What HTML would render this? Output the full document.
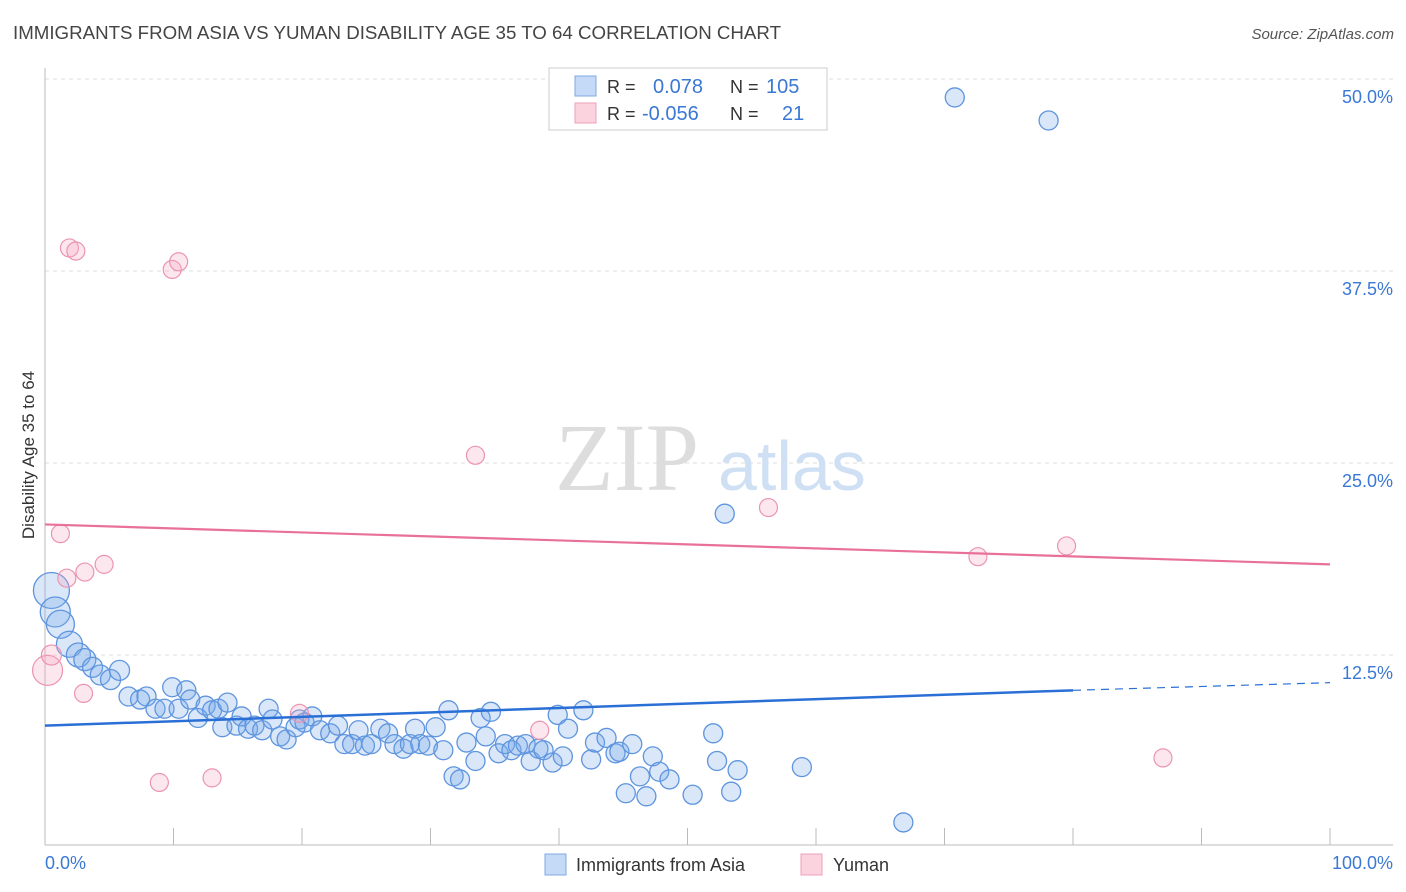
<!DOCTYPE html>
<html><head><meta charset="utf-8"><style>
body{margin:0;background:#fff;font-family:"Liberation Sans",sans-serif;}
svg{display:block}
</style></head><body>
<svg width="1406" height="892" xmlns="http://www.w3.org/2000/svg">
<text x="13" y="39" font-size="18" fill="#444" textLength="768" lengthAdjust="spacingAndGlyphs">IMMIGRANTS FROM ASIA VS YUMAN DISABILITY AGE 35 TO 64 CORRELATION CHART</text>
<text x="1394" y="39" font-size="15" fill="#555" font-style="italic" text-anchor="end">Source: ZipAtlas.com</text>
<g id="grid"></g>
<text x="555" y="490" font-size="96" fill="#ddd" font-family="Liberation Serif,serif">ZIP</text>
<text x="718" y="490" font-size="70" fill="#cfe0f4">atlas</text>
<g id="marks"></g>
<text transform="translate(34,455) rotate(-90)" font-size="17" fill="#333" text-anchor="middle">Disability Age 35 to 64</text>
<text x="45" y="869" font-size="18" fill="#3a78d4">0.0%</text>
<text x="1393" y="869" font-size="18" fill="#3a78d4" text-anchor="end">100.0%</text>
<g>
<rect x="545" y="854" width="21" height="21" fill="#c5daf6" stroke="#7ea8e3"/>
<text x="576" y="871" font-size="18" fill="#333">Immigrants from Asia</text>
<rect x="801" y="854" width="21" height="21" fill="#fbd3df" stroke="#eca0b8"/>
<text x="833" y="871" font-size="18" fill="#333">Yuman</text>
</g>
<g>
<rect x="549" y="68" width="278" height="62" fill="#fff" stroke="#ccc"/>
<rect x="575" y="76" width="21" height="20" fill="#c5daf6" stroke="#7ea8e3"/>
<rect x="575" y="103" width="21" height="20" fill="#fbd3df" stroke="#eca0b8"/>
<text x="607" y="93" font-size="18" fill="#333">R = </text><text x="653" y="93" font-size="20" fill="#3a78d4">0.078</text>
<text x="730" y="93" font-size="18" fill="#333">N = </text><text x="766" y="93" font-size="20" fill="#3a78d4">105</text>
<text x="607" y="120" font-size="18" fill="#333">R = </text><text x="642" y="120" font-size="20" fill="#3a78d4">-0.056</text>
<text x="730" y="120" font-size="18" fill="#333">N = </text><text x="782" y="120" font-size="20" fill="#3a78d4">21</text>
</g>
</svg>
<script>
const yTicks=[12.5,25.0,37.5,50.0];
const blueX=[0.5,0.8,1.2,1.9,2.6,3.1,3.7,4.3,5.1,5.8,6.5,7.4,7.9,8.6,9.3,9.9,10.4,11.0,11.3,11.9,12.5,13.0,13.5,13.8,14.2,14.9,15.3,15.8,16.3,16.9,17.4,17.7,18.3,18.8,19.5,19.8,20.2,20.8,21.4,22.2,22.8,23.3,23.9,24.4,24.9,25.4,26.1,26.7,27.2,27.9,28.4,28.8,29.2,29.8,30.4,31.0,31.4,31.8,32.3,32.8,33.5,33.9,34.3,34.7,35.3,35.8,36.3,36.8,37.4,37.8,38.4,38.8,39.5,39.9,40.3,40.7,41.9,42.5,42.8,43.7,44.4,44.7,45.2,45.7,46.3,46.8,47.3,47.8,48.6,50.4,52.0,52.3,52.9,53.4,53.9,58.9,66.8,70.8,78.1];
const blueY=[16.7,15.3,14.5,13.2,12.5,12.2,11.7,11.2,10.9,11.5,9.8,9.6,9.8,9.0,9.0,10.4,9.0,10.2,9.6,8.4,9.2,8.9,9.0,7.8,9.4,7.9,8.5,7.7,7.9,7.6,9.0,8.3,7.2,7.0,7.8,8.3,8.1,8.5,7.6,7.4,7.9,6.7,6.7,7.6,6.6,6.7,7.7,7.4,6.7,6.4,6.7,7.7,6.7,6.6,7.8,6.3,8.9,4.6,4.4,6.8,5.6,8.4,7.2,8.8,6.1,6.7,6.3,6.6,6.7,5.6,6.4,6.3,5.5,8.6,5.9,7.7,8.9,5.7,6.8,7.1,6.1,6.2,3.5,6.7,4.6,3.3,5.9,4.9,4.4,3.4,7.4,5.6,21.7,3.6,5.0,5.2,1.6,48.8,47.3];
const blueSize=[18,15,14,13,12,11,10,10,10,10];
const pinkX=[0.2,0.5,1.2,1.7,1.9,2.4,3.1,3.0,4.6,8.9,9.9,10.4,13.0,19.8,33.5,38.5,56.3,72.6,79.5,87.0];
const pinkY=[11.5,12.5,20.4,17.5,39.0,38.8,17.9,10.0,18.4,4.2,37.6,38.1,4.5,8.7,25.5,7.6,22.1,18.9,19.6,5.8];
const pinkSize=[15,10];
const blueTrend=[7.9,10.2,10.7]; // at x=0, 80, 100
const pinkTrend=[21.0,18.4];     // at x=0, 100
const NS="http://www.w3.org/2000/svg";
const sx=v=>45+v*12.85, sy=v=>847-v*15.36;
function mk(tag,attrs,parent){const e=document.createElementNS(NS,tag);for(const k in attrs)e.setAttribute(k,attrs[k]);parent.appendChild(e);return e;}
const grid=document.getElementById('grid'), marks=document.getElementById('marks');
yTicks.forEach(t=>{
 const l=mk('line',{x1:45,x2:1393,y1:sy(t),y2:sy(t),stroke:'#ddd','stroke-dasharray':'4,4'},grid);
 
 
 const tx=mk('text',{x:1393,y:sy(t)+24,'font-size':18,fill:'#3a78d4','text-anchor':'end'},grid);
 tx.textContent=t.toFixed(1)+'%';
 
 
});
mk('line',{x1:45,x2:45,y1:68,y2:845,stroke:'#bbb'},grid);
mk('line',{x1:45,x2:1393,y1:845,y2:845,stroke:'#bbb'},grid);
for(let i=0;i<=10;i++){mk('line',{x1:sx(i*10),x2:sx(i*10),y1:828,y2:845,stroke:'#bbb'},grid);}
blueX.forEach((x,i)=>{
 const c=mk('circle',{cx:sx(x),cy:sy(blueY[i]),r:blueSize[i]||9.5,fill:'rgba(120,170,235,0.28)',stroke:'#5f95de','stroke-width':1.3},marks);
 
 
});
pinkX.forEach((x,i)=>{
 const c=mk('circle',{cx:sx(x),cy:sy(pinkY[i]),r:pinkSize[i]||9,fill:'rgba(245,170,195,0.28)',stroke:'#eb95b0','stroke-width':1.2},marks);
 
 
});
const bl=mk('line',{x1:sx(0),y1:sy(blueTrend[0]),x2:sx(80),y2:sy(blueTrend[1]),stroke:'#2a6fd6','stroke-width':2.5},marks);


const bd=mk('line',{x1:sx(80),y1:sy(blueTrend[1]),x2:sx(100),y2:sy(blueTrend[2]),stroke:'#2a6fd6','stroke-width':1.2,'stroke-dasharray':'8,6'},marks);


const pl=mk('line',{x1:sx(0),y1:sy(pinkTrend[0]),x2:sx(100),y2:sy(pinkTrend[1]),stroke:'#e8709a','stroke-width':2.2},marks);


</script>
</body></html>
